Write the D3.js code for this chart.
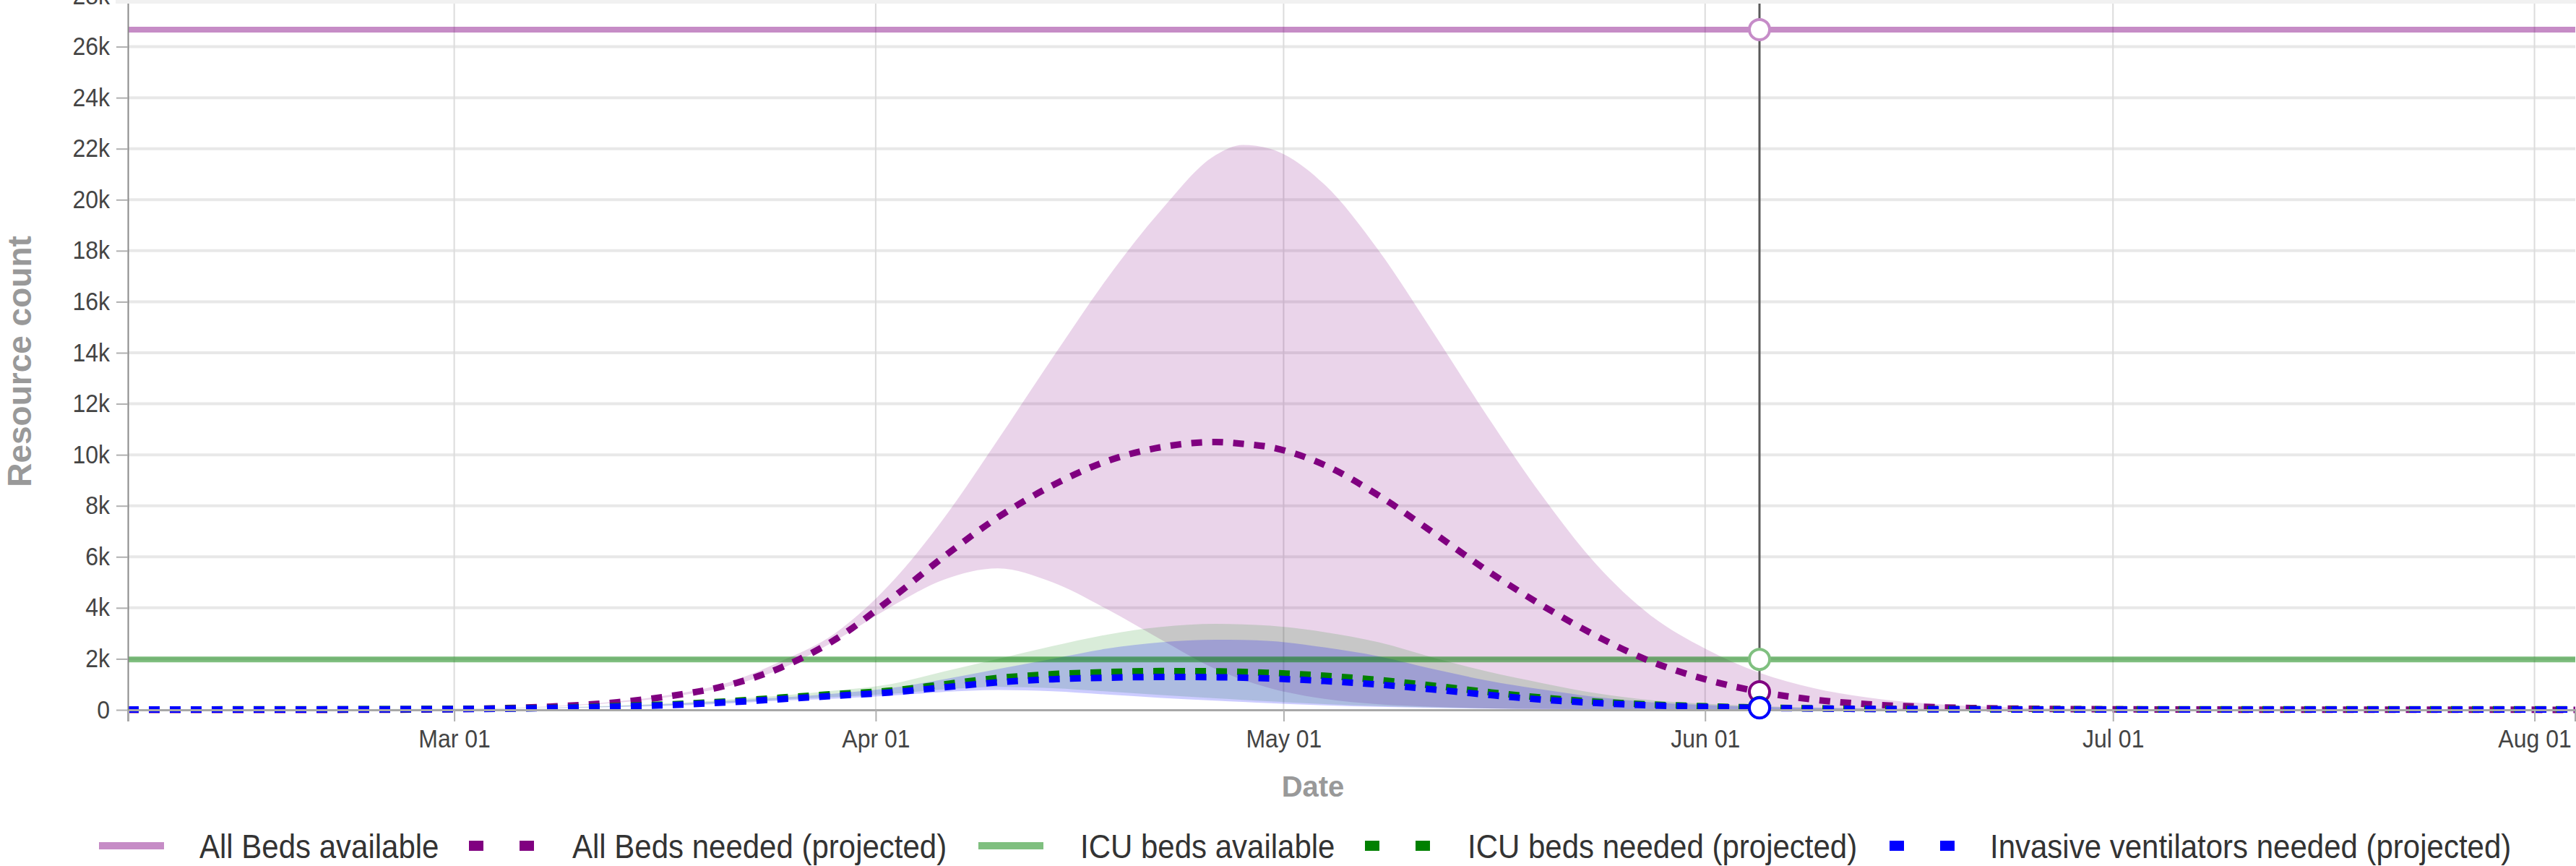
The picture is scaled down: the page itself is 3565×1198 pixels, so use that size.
<!DOCTYPE html>
<html>
<head>
<meta charset="utf-8">
<script src="https://cdn.jsdelivr.net/npm/d3@7"></script>
<style>
  html, body { margin: 0; padding: 0; background: #fff; }
  svg { display: block; font-family: "Liberation Sans", Arial, Helvetica, sans-serif; }
  .tall { transform-box: fill-box; transform-origin: center; transform: scaleY(1.08); }
</style>
</head>
<body>
<svg id="chart" width="3565" height="1198"></svg>
<script>
// ---- data -------------------------------------------------------------
const dates = [
  "2020-02-06","2020-02-16","2020-02-26","2020-03-04","2020-03-09","2020-03-13",
  "2020-03-17","2020-03-21","2020-03-25","2020-03-29","2020-04-02","2020-04-06",
  "2020-04-10","2020-04-14","2020-04-18","2020-04-22","2020-04-26","2020-04-28",
  "2020-04-30","2020-05-04","2020-05-08","2020-05-12","2020-05-16","2020-05-20",
  "2020-05-24","2020-05-28","2020-06-01","2020-06-05","2020-06-09","2020-06-13",
  "2020-06-17","2020-06-21","2020-06-27","2020-07-05","2020-07-15","2020-07-25",
  "2020-08-04"
];

const allBedsAvailable = 26670;
const icuBedsAvailable = 1980;

const allBedsNeeded = [0, 0, 10, 60, 150, 300, 550, 950, 1650, 2750, 4300, 6000,
  7550, 8800, 9750, 10300, 10500, 10430,
  10300, 9600, 8400, 6950, 5450, 4100,
  2900, 1900, 1200, 710, 400, 220,
  120, 70, 35, 15, 8, 5, 3];
const allBedsUpper = [0, 0, 12, 65, 170, 330, 600, 1050, 1900, 3000, 4900, 7500,
  10600, 13800, 16900, 19600, 21750, 22150,
  22000, 20600, 18000, 14800, 11500, 8400,
  5700, 3700, 2400, 1450, 850, 480,
  260, 140, 60, 25, 12, 8, 5];
const allBedsLower = [0, 0, 8, 55, 140, 280, 520, 900, 1600, 2700, 4000, 5100,
  5550, 5000, 3950, 2750, 1600, 1180,
  850, 430, 220, 120, 60, 35,
  20, 12, 10, 8, 6, 5,
  4, 3, 2, 2, 1, 1, 1];

const icuNeeded = [15, 20, 30, 50, 90, 150, 220, 330, 480, 620, 750, 1000,
  1250, 1400, 1480, 1520, 1510, 1490,
  1450, 1340, 1170, 950, 700, 480,
  320, 210, 140, 90, 60, 40,
  30, 25, 20, 20, 20, 20, 20];
const icuUpper = [15, 20, 32, 55, 100, 170, 260, 400, 560, 760, 1000, 1500,
  2000, 2500, 2950, 3250, 3370, 3350,
  3300, 3050, 2650, 2050, 1500, 1050,
  650, 380, 240, 150, 90, 60,
  40, 30, 22, 20, 20, 20, 20];
const icuLower = [15, 20, 28, 45, 80, 130, 190, 280, 400, 500, 620, 800,
  900, 850, 720, 580, 450, 390,
  330, 230, 150, 100, 60, 40,
  25, 20, 20, 20, 20, 20,
  20, 20, 20, 20, 20, 20, 20];

const ventNeeded = [12, 15, 25, 40, 80, 130, 190, 290, 420, 550, 680, 880,
  1080, 1200, 1260, 1290, 1280, 1260,
  1230, 1130, 990, 800, 590, 400,
  270, 175, 115, 80, 50, 35,
  25, 20, 15, 15, 15, 15, 15];
const ventUpper = [12, 15, 27, 45, 90, 150, 230, 350, 480, 640, 850, 1200,
  1600, 2000, 2400, 2650, 2750, 2740,
  2700, 2450, 2100, 1600, 1150, 800,
  500, 300, 190, 120, 75, 45,
  30, 22, 16, 15, 15, 15, 15];
const ventLower = [12, 15, 22, 35, 70, 110, 160, 240, 360, 440, 550, 700,
  780, 730, 600, 470, 360, 310,
  260, 180, 120, 80, 50, 30,
  20, 15, 15, 15, 15, 15,
  15, 15, 15, 15, 15, 15, 15];

const yTicks = [0, 2000, 4000, 6000, 8000, 10000, 12000, 14000, 16000, 18000,
  20000, 22000, 24000, 26000, 28000];
const xTicks = ["2020-03-01","2020-04-01","2020-05-01","2020-06-01","2020-07-01","2020-08-01"];
const hoverDate = "2020-06-05";

const legendLabels = [
  "All Beds available",
  "All Beds needed (projected)",
  "ICU beds available",
  "ICU beds needed (projected)",
  "Invasive ventilators needed (projected)"
];

// ---- setup ------------------------------------------------------------
const parse = d3.timeParse("%Y-%m-%d");
const dts = dates.map(parse);

const PURPLE = "#800080", GREEN = "#008000", BLUE = "#0000ff";

const svg = d3.select("#chart");
const x = d3.scaleTime()
  .domain([parse("2020-02-06"), parse("2020-08-04")])
  .range([177, 3564]);
const y = d3.scaleLinear().domain([0, 28000]).range([982, -6]);

const plotLeft = 177, plotRight = 3564, plotTop = 5, plotBottom = 982;

svg.append("defs").append("clipPath").attr("id", "plotClip")
  .append("rect")
  .attr("x", plotLeft).attr("y", plotTop)
  .attr("width", plotRight - plotLeft).attr("height", plotBottom - plotTop + 8);

// ---- gridlines --------------------------------------------------------
const grid = svg.append("g");
grid.selectAll("line.h").data(yTicks.filter(v => v > 0)).join("line")
  .attr("x1", plotLeft).attr("x2", plotRight)
  .attr("y1", d => y(d)).attr("y2", d => y(d))
  .attr("stroke", "#e8e8e8").attr("stroke-width", 4);
grid.selectAll("line.v").data(xTicks.map(parse)).join("line")
  .attr("x1", d => x(d)).attr("x2", d => x(d))
  .attr("y1", plotTop).attr("y2", plotBottom)
  .attr("stroke", "#dcdcdc").attr("stroke-width", 2);

// ---- bands --------------------------------------------------------------
const plot = svg.append("g").attr("clip-path", "url(#plotClip)");

const area = (lo, hi) => d3.area()
  .x((d, i) => x(dts[i]))
  .y0((d, i) => y(lo[i]))
  .y1((d, i) => y(hi[i]))
  .curve(d3.curveMonotoneX)(dts);

plot.append("path").attr("d", area(allBedsLower, allBedsUpper))
  .attr("fill", PURPLE).attr("fill-opacity", 0.17);
plot.append("path").attr("d", area(icuLower, icuUpper))
  .attr("fill", GREEN).attr("fill-opacity", 0.15);
plot.append("path").attr("d", area(ventLower, ventUpper))
  .attr("fill", BLUE).attr("fill-opacity", 0.2);

// ---- capacity lines -----------------------------------------------------
const line = vals => d3.line()
  .x((d, i) => x(dts[i]))
  .y((d, i) => y(vals[i]))
  .curve(d3.curveMonotoneX)(dts);

const allAvail = dts.map(() => allBedsAvailable);
const icuAvail = dts.map(() => icuBedsAvailable);

plot.append("path").attr("d", line(allAvail))
  .attr("fill", "none").attr("stroke", PURPLE).attr("stroke-opacity", 0.45).attr("stroke-width", 8);
plot.append("path").attr("d", line(icuAvail))
  .attr("fill", "none").attr("stroke", GREEN).attr("stroke-opacity", 0.5).attr("stroke-width", 8);

// ---- axes ---------------------------------------------------------------
const xAxis = d3.axisBottom(x)
  .tickValues(xTicks.map(parse))
  .tickFormat(d3.timeFormat("%b %d"))
  .tickSize(16).tickSizeOuter(16).tickPadding(12);
const gx = svg.append("g").attr("transform", `translate(0,${plotBottom})`).call(xAxis);
gx.select(".domain").attr("stroke", "#a8a8a8").attr("stroke-width", 3);
gx.selectAll(".tick line").attr("stroke", "#b0b0b0").attr("stroke-width", 2);
gx.selectAll(".tick text").attr("font-size", 32).attr("fill", "#444").attr("class", "tall")
  .attr("font-family", "'Liberation Sans', Arial, sans-serif");

const yAxis = d3.axisLeft(y)
  .tickValues(yTicks)
  .tickFormat(d => d === 0 ? "0" : (d / 1000) + "k")
  .tickSize(16).tickSizeOuter(0).tickPadding(9);
const gy = svg.append("g").attr("transform", `translate(${plotLeft},0)`).call(yAxis);
gy.select(".domain").attr("stroke", "#8a8a8a").attr("stroke-width", 2);
gy.selectAll(".tick line").attr("stroke", "#b0b0b0").attr("stroke-width", 2);
gy.selectAll(".tick text").attr("font-size", 32).attr("fill", "#444").attr("class", "tall")
  .attr("font-family", "'Liberation Sans', Arial, sans-serif");

// ---- projected lines ----------------------------------------------------
const projected = [
  { vals: allBedsNeeded, color: PURPLE },
  { vals: icuNeeded, color: GREEN },
  { vals: ventNeeded, color: BLUE }
];
plot.selectAll("path.proj").data(projected).join("path")
  .attr("class", "proj")
  .attr("d", d => line(d.vals))
  .attr("fill", "none")
  .attr("stroke", d => d.color)
  .attr("stroke-width", 9)
  .attr("stroke-dasharray", "15,14");

// ---- hover marker -------------------------------------------------------
const hi = dates.indexOf(hoverDate);
const hx = x(dts[hi]);
svg.append("line")
  .attr("x1", hx).attr("x2", hx).attr("y1", plotTop).attr("y2", plotBottom)
  .attr("stroke", "#5a5a5a").attr("stroke-width", 3);

const markers = [
  { v: allBedsAvailable, color: "#c68cc8" },
  { v: icuBedsAvailable, color: "#80c080" },
  { v: allBedsNeeded[hi], color: PURPLE },
  { v: icuNeeded[hi], color: GREEN },
  { v: ventNeeded[hi], color: BLUE }
];
svg.selectAll("circle.marker").data(markers).join("circle")
  .attr("class", "marker")
  .attr("cx", hx).attr("cy", d => y(d.v)).attr("r", 14)
  .attr("fill", "#fff").attr("stroke", d => d.color).attr("stroke-width", 4);

// faint band along the top edge
svg.append("rect").attr("x", 160).attr("y", 0).attr("width", 3565 - 160).attr("height", plotTop)
  .attr("fill", "#f1f1f1");

// ---- titles -------------------------------------------------------------
svg.append("text")
  .attr("transform", "translate(43,500) rotate(-90)")
  .attr("text-anchor", "middle")
  .attr("font-size", 46).attr("font-weight", "bold").attr("fill", "#999")
  .text("Resource count");

svg.append("text")
  .attr("x", 1817).attr("y", 1102)
  .attr("text-anchor", "middle")
  .attr("font-size", 40).attr("font-weight", "bold").attr("fill", "#999")
  .text("Date");

// ---- legend -------------------------------------------------------------
const legendItems = [
  { label: legendLabels[0], color: PURPLE, opacity: 0.45, dashed: false, sx: 137, tx: 276 },
  { label: legendLabels[1], color: PURPLE, opacity: 1, dashed: true, sx: 649, tx: 792 },
  { label: legendLabels[2], color: GREEN, opacity: 0.5, dashed: false, sx: 1354, tx: 1495 },
  { label: legendLabels[3], color: GREEN, opacity: 1, dashed: true, sx: 1889, tx: 2031 },
  { label: legendLabels[4], color: BLUE, opacity: 1, dashed: true, sx: 2615, tx: 2754 }
];
const lg = svg.append("g");
const li = lg.selectAll("g").data(legendItems).join("g");
li.append("line")
  .attr("x1", d => d.sx).attr("x2", d => d.sx + 90)
  .attr("y1", 1170).attr("y2", 1170)
  .attr("stroke", d => d.color).attr("stroke-opacity", d => d.opacity)
  .attr("stroke-width", d => d.dashed ? 14 : 10)
  .attr("stroke-dasharray", d => d.dashed ? "20,50" : null);
li.append("text")
  .attr("class", "tall")
  .attr("x", d => d.tx).attr("y", 1186)
  .attr("font-size", 42).attr("fill", "#333")
  .text(d => d.label);
</script>
</body>
</html>
